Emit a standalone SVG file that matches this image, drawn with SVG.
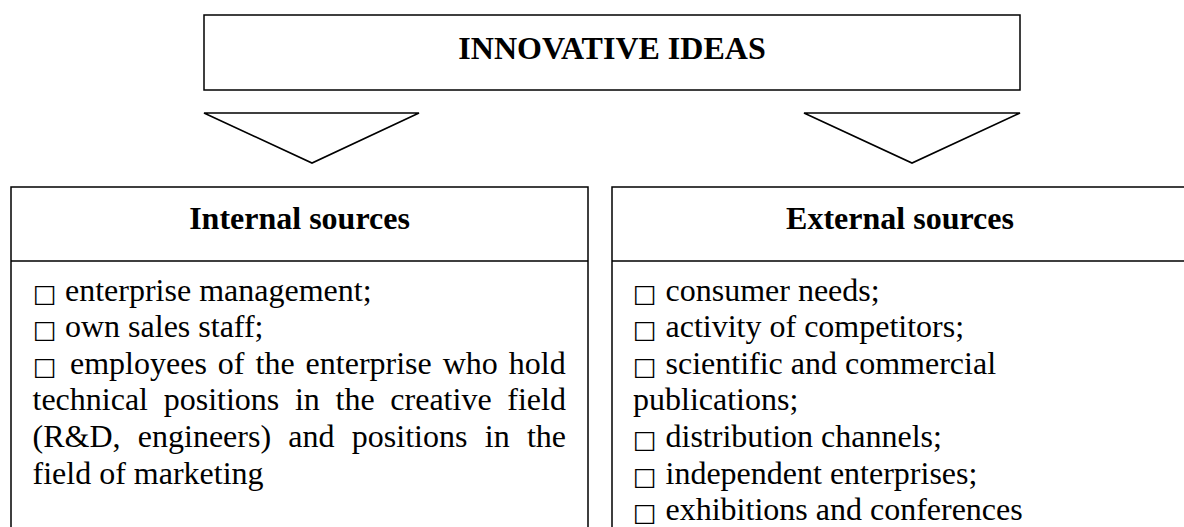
<svg xmlns="http://www.w3.org/2000/svg" width="1184" height="527" viewBox="0 0 1184 527">
<style>
.box{fill:none;stroke:#000;stroke-width:1.5}
.tri{fill:#fff;stroke:#000;stroke-width:1.6;stroke-linejoin:miter}
.h{font-family:"Liberation Serif","Times New Roman",serif;font-weight:bold;font-size:32px;fill:#000;text-anchor:middle}
.t{font-family:"Liberation Serif","Times New Roman",serif;font-size:32px;fill:#000}
.b{font-family:"DejaVu Sans",sans-serif;font-size:25px;fill:#000}
</style>
<rect width="1184" height="527" fill="#fff"/>
<g id="innovative-ideas">
<rect class="box" x="204" y="15" width="816" height="75" stroke-width="1.3"/>
<text class="h" x="612" y="59">INNOVATIVE IDEAS</text>
</g>
<g id="connectors">
<polygon class="tri" points="204,113 419,113 312,163"/>
<polygon class="tri" points="804,113 1020,113 912,163"/>
</g>
<g id="internal-sources">
<path class="box" d="M11,530 V187 H588 V530 M11,261 H588"/>
<text class="h" x="299.5" y="229">Internal sources</text>
<text class="b" x="33" y="301.5">□</text>
<text class="t" x="65" y="300.5">enterprise management;</text>
<text class="b" x="33" y="338.1">□</text>
<text class="t" x="65" y="337.1">own sales staff;</text>
<text class="b" x="33" y="374.7">□</text>
<text class="t" x="70" y="373.7" word-spacing="3">employees of the enterprise who hold</text>
<text class="t" x="32.5" y="410.3" word-spacing="7.7">technical positions in the creative field</text>
<text class="t" x="32.5" y="446.9" word-spacing="9.3">(R&amp;D, engineers) and positions in the</text>
<text class="t" x="32.5" y="483.5">field of marketing</text>
</g>
<g id="external-sources">
<path class="box" d="M612,530 V187 H1186 M612,261 H1186"/>
<text class="h" x="900" y="229">External sources</text>
<text class="b" x="633" y="301.5">□</text>
<text class="t" x="665.5" y="300.5">consumer needs;</text>
<text class="b" x="633" y="338.1">□</text>
<text class="t" x="665.5" y="337.1">activity of competitors;</text>
<text class="b" x="633" y="374.7">□</text>
<text class="t" x="665.5" y="373.7">scientific and commercial</text>
<text class="t" x="633" y="410.3">publications;</text>
<text class="b" x="633" y="447.9">□</text>
<text class="t" x="665.5" y="446.9">distribution channels;</text>
<text class="b" x="633" y="484.5">□</text>
<text class="t" x="665.5" y="483.5">independent enterprises;</text>
<text class="b" x="633" y="521.1">□</text>
<text class="t" x="665.5" y="520.1">exhibitions and conferences</text>
</g>
</svg>
